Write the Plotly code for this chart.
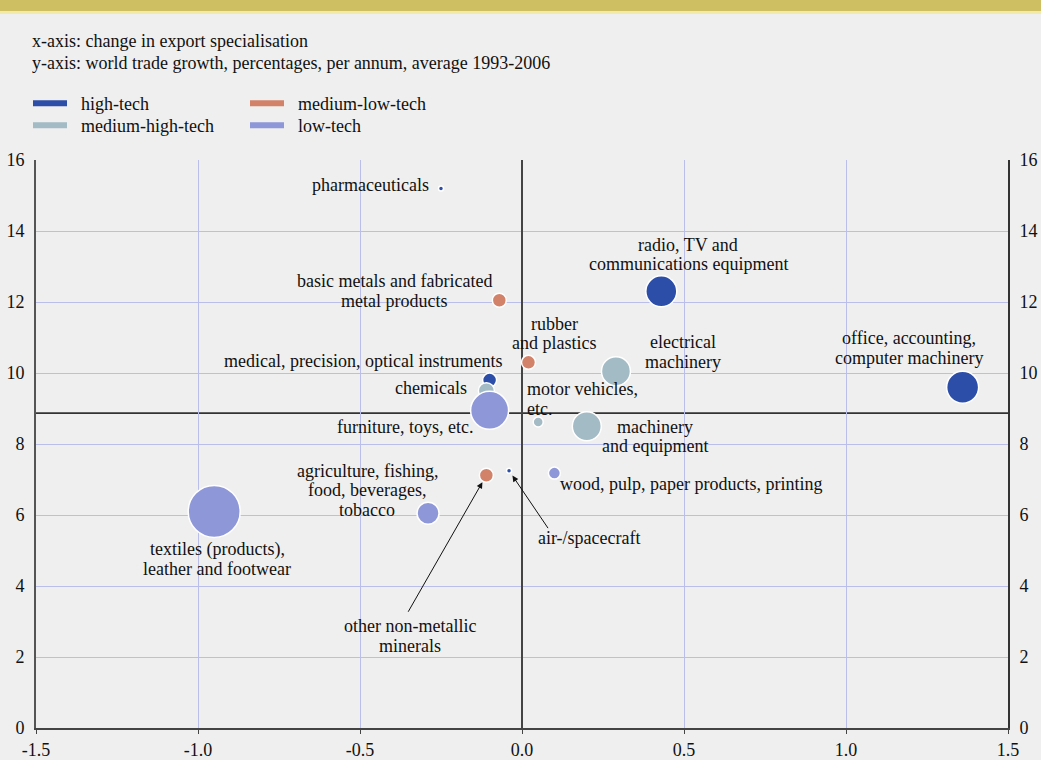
import plotly.graph_objects as go

# ---------------- data ----------------
sectors = [
    "pharmaceuticals",
    "radio, TV and communications equipment",
    "office, accounting, computer machinery",
    "medical, precision, optical instruments",
    "air-/spacecraft",
    "electrical machinery",
    "chemicals",
    "motor vehicles, etc.",
    "machinery and equipment",
    "basic metals and fabricated metal products",
    "rubber and plastics",
    "other non-metallic minerals",
    "furniture, toys, etc.",
    "wood, pulp, paper products, printing",
    "agriculture, fishing, food, beverages, tobacco",
    "textiles (products), leather and footwear",
]
tech_class = [
    "high-tech", "high-tech", "high-tech", "high-tech", "high-tech",
    "medium-high-tech", "medium-high-tech", "medium-high-tech", "medium-high-tech",
    "medium-low-tech", "medium-low-tech", "medium-low-tech",
    "low-tech", "low-tech", "low-tech", "low-tech",
]
export_spec_change = [-0.25, 0.43, 1.36, -0.10, -0.04,
                      0.29, -0.11, 0.05, 0.20,
                      -0.07, 0.02, -0.11,
                      -0.10, 0.10, -0.29, -0.95]
trade_growth = [15.2, 12.3, 9.6, 9.8, 7.25,
                10.05, 9.5, 8.62, 8.5,
                12.05, 10.3, 7.12,
                8.95, 7.18, 6.05, 6.1]
bubble_size = [5, 31, 32, 14, 5,
               29, 16, 10, 29,
               14, 14, 14,
               38, 12, 22, 52]
avg_world_trade_growth = 8.87
x_ticks = [-1.5, -1.0, -0.5, 0.0, 0.5, 1.0, 1.5]
x_tick_labels = ["-1.5", "-1.0", "-0.5", "0.0", "0.5", "1.0", "1.5"]
y_ticks = [0, 2, 4, 6, 8, 10, 12, 14, 16]
classes = ["high-tech", "medium-high-tech", "medium-low-tech", "low-tech"]

# ---------------- styling / layout (not data) ----------------
W, H = 1041, 760
ML, MR, MT, MB = 36, 33, 160, 32
PW, PH = W - ML - MR, H - MT - MB

def px_x(p):
    return (p - ML) / PW

def px_y(p):
    return (H - MB - p) / PH

FONT = "Liberation Serif"
FS = 18
TXT = "#111111"
BG = "#efefef"
class_colors = {
    "high-tech": "#2d4ea8",
    "medium-high-tech": "#a3bbc5",
    "medium-low-tech": "#d3826a",
    "low-tech": "#8e97d8",
}
# one legend box per entry: (legend id, left px, top px)
legend_boxes = {
    "high-tech": ("legend", 28, 85),
    "medium-high-tech": ("legend3", 28, 107),
    "medium-low-tech": ("legend2", 245, 85),
    "low-tech": ("legend4", 245, 107),
}

# label placement (lines, anchor, pixel offsets from bubble centre)
label_pos = {
    "pharmaceuticals": (["pharmaceuticals"], "right", -10, 3),
    "radio, TV and communications equipment": (["radio, TV and", "communications equipment"], "center", 27, 37),
    "office, accounting, computer machinery": (["office, accounting,", "computer machinery"], "center", -54, 39),
    "medical, precision, optical instruments": (["medical, precision, optical instruments"], "right", 14, 19),
    "electrical machinery": (["electrical", "machinery"], "center", 67, 19),
    "chemicals": (["chemicals"], "right", -17, 3),
    "motor vehicles, etc.": (["motor vehicles,", "etc."], "left", -13, 23),
    "machinery and equipment": (["machinery", "and equipment"], "center", 68, -10),
    "basic metals and fabricated metal products": (["basic metals and fabricated", "metal products"], "center", -105, 9),
    "rubber and plastics": (["rubber", "and plastics"], "center", 26, 29),
    "other non-metallic minerals": (["other non-metallic", "minerals"], "center", -76, -161),
    "furniture, toys, etc.": (["furniture, toys, etc."], "right", -15, -17),
    "wood, pulp, paper products, printing": (["wood, pulp, paper products, printing"], "left", 4, -11),
    "agriculture, fishing, food, beverages, tobacco": (["agriculture, fishing,", "food, beverages,", "tobacco"], "center", -61, 23),
    "textiles (products), leather and footwear": (["textiles (products),", "leather and footwear"], "center", 3, -48),
    "air-/spacecraft": (["air-/spacecraft"], "center", 80, -67),
}
LINE_GAP = 19.5
arrows = {
    "air-/spacecraft": (40, 59, 6),
    "other non-metallic minerals": (-79, 138, 8),
}

fig = go.Figure()

for cls in classes:
    idx = [i for i, c in enumerate(tech_class) if c == cls]
    fig.add_trace(go.Scatter(
        x=[export_spec_change[i] for i in idx],
        y=[trade_growth[i] for i in idx],
        mode="markers",
        marker=dict(size=[bubble_size[i] for i in idx], color=class_colors[cls],
                    line=dict(color="white", width=1.5), opacity=1),
        text=[sectors[i] for i in idx],
        hoverinfo="text",
        showlegend=False,
    ))

# legend entries
legend_layout = {}
for cls in classes:
    lid, lx, ly = legend_boxes[cls]
    fig.add_trace(go.Scatter(
        x=[None], y=[None], mode="lines", name="\u00a0\u00a0" + cls,
        line=dict(color=class_colors[cls], width=6),
        legend=lid,
    ))
    legend_layout[lid] = dict(x=px_x(lx), y=px_y(ly), xanchor="left", yanchor="top",
                              bgcolor="rgba(0,0,0,0)", font=dict(family=FONT, size=FS, color=TXT),
                              itemwidth=34)

# invisible trace for right y axis
fig.add_trace(go.Scatter(x=[None], y=[None], yaxis="y2", showlegend=False, hoverinfo="skip"))

# reference line: average world trade growth
fig.add_hline(y=avg_world_trade_growth, line=dict(color="#333333", width=1.6), layer="below")

annotations = []
for i, s in enumerate(sectors):
    lines, xa, dx, dy = label_pos[s]
    n = len(lines)
    for k, line in enumerate(lines):
        annotations.append(dict(
            x=export_spec_change[i], y=trade_growth[i], xref="x", yref="y",
            text=line, showarrow=False, xanchor=xa, yanchor="middle",
            xshift=dx, yshift=dy + ((n - 1) / 2 - k) * LINE_GAP,
            font=dict(family=FONT, size=FS, color=TXT),
        ))
    if s in arrows:
        ax, ay, so = arrows[s]
        annotations.append(dict(
            x=export_spec_change[i], y=trade_growth[i], xref="x", yref="y",
            text="", showarrow=True, ax=ax, ay=ay, axref="pixel", ayref="pixel",
            arrowhead=2, arrowsize=1.2, arrowwidth=1, arrowcolor="#111111", standoff=so,
        ))

header_lines = ["x-axis: change in export specialisation",
                "y-axis: world trade growth, percentages, per annum, average 1993-2006"]
for k, line in enumerate(header_lines):
    annotations.append(dict(
        x=px_x(30), y=px_y(41 + 22 * k), xref="paper", yref="paper", xanchor="left", yanchor="middle",
        align="left", showarrow=False, text=line,
        font=dict(family=FONT, size=FS, color=TXT),
    ))

shapes = [
    dict(type="rect", xref="paper", yref="paper", x0=px_x(0), x1=px_x(W), y0=px_y(11), y1=px_y(-2),
         fillcolor="#cdbf62", line=dict(width=0), layer="below"),
    dict(type="rect", xref="paper", yref="paper", x0=px_x(0), x1=px_x(W), y0=px_y(14), y1=px_y(11),
         fillcolor="#f2eaa8", line=dict(width=0), layer="below"),
]

fig.update_layout(
    width=W, height=H,
    margin=dict(l=ML, r=MR, t=MT, b=MB, pad=0, autoexpand=False),
    paper_bgcolor=BG, plot_bgcolor=BG,
    font=dict(family=FONT, size=FS, color=TXT),
    annotations=annotations,
    shapes=list(fig.layout.shapes) + shapes,
    xaxis=dict(range=[-1.5, 1.5], tickvals=x_ticks, ticktext=x_tick_labels,
               showgrid=True, gridcolor="#b9bfea", gridwidth=1,
               zeroline=True, zerolinecolor="#444444", zerolinewidth=1.6,
               showline=True, linecolor="#444444", linewidth=2,
               ticks="outside", ticklen=4, tickcolor="#444444",
               tickfont=dict(family=FONT, size=FS, color=TXT), fixedrange=True, automargin=False),
    yaxis=dict(range=[0, 16], tickvals=y_ticks,
               showgrid=True, gridcolor="#b9bfea", gridwidth=1,
               zeroline=False, showline=True, linecolor="#555555", linewidth=1.6,
               ticks="", ticklabelstandoff=6, automargin=False,
               tickfont=dict(family=FONT, size=FS, color=TXT)),
    yaxis2=dict(range=[0, 16], tickvals=y_ticks, overlaying="y", side="right",
                showgrid=False, zeroline=False, showline=True, linecolor="#333333", linewidth=1.6,
                ticks="", ticklabelstandoff=6, automargin=False,
                tickfont=dict(family=FONT, size=FS, color=TXT)),
    hovermode="closest",
    **legend_layout,
)

fig.write_html("out.html", config={"displayModeBar": False},
               post_script="document.body.style.margin='0';document.body.style.overflow='hidden';")
